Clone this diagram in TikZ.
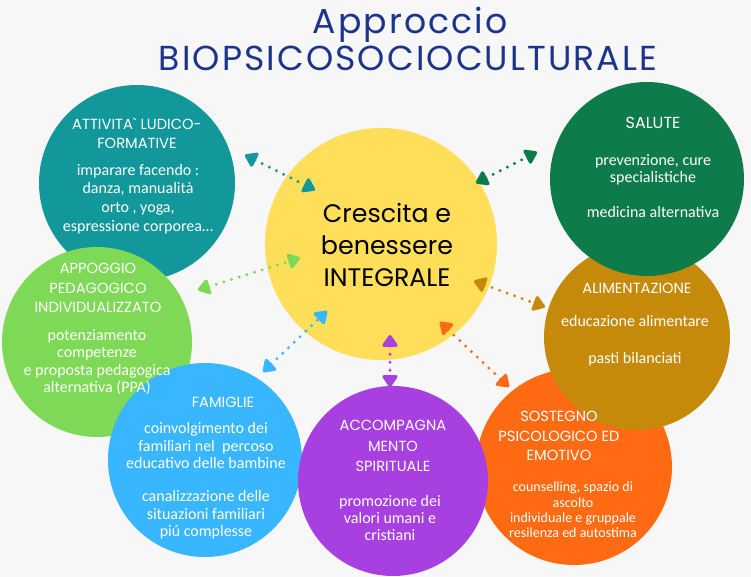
\documentclass[tikz,border=0pt]{standalone}
\usepackage{fontspec}
\setmainfont{Carlito}
\newfontfamily\titolofont{Poppins}
\newfontfamily\titolospaziato[LetterSpace=6]{Poppins}
\usepackage{xcolor}
\usepackage{tikz}
\usetikzlibrary{arrows.meta}

\definecolor{sfondo}{HTML}{F7F7F7}
\definecolor{blutitolo}{HTML}{1C348C}
\definecolor{cTeal}{HTML}{12979B}
\definecolor{cVerde}{HTML}{7ED957}
\definecolor{cSalute}{HTML}{0E7B4A}
\definecolor{cOcra}{HTML}{C68A0A}
\definecolor{cArancio}{HTML}{FF6A13}
\definecolor{cViola}{HTML}{A83FE0}
\definecolor{cAzzurro}{HTML}{38B6FF}
\definecolor{cGiallo}{HTML}{FFDE59}

\tikzset{
  bolla/.style={circle, inner sep=0pt, draw=none},
  intestazione/.style={font=\titolofont\fontsize{11}{14.5}\selectfont, text=white, align=center},
  testo/.style={font=\fontsize{12}{13}\selectfont, text=white, align=center},
  freccia/.style={{Triangle[round,length=10pt,width=13pt]}-{Triangle[round,length=10pt,width=13pt]},
    line width=2.4pt, line cap=round, dash pattern=on 0pt off 6pt}
}

\begin{document}
\begin{tikzpicture}[x=0.75pt, y=-0.75pt]
% Sfondo
\fill[sfondo] (0,0) rectangle (751,577);
\useasboundingbox (0,0) rectangle (751,577);

% Titolo
\node[font=\titolospaziato\fontsize{26}{30}\selectfont, text=blutitolo] (tit1) at (410,25) {Approccio};
\node[font=\titolospaziato\fontsize{26}{30}\selectfont, text=blutitolo] (tit2) at (408,58) {BIOPSICOSOCIOCULTURALE};

% Cerchi - nell'ordine di sovrapposizione
\node[bolla, fill=cTeal, minimum size=147pt] (ludico) at (137,183) {};
\node[bolla, fill=cVerde, minimum size=142.5pt] (appoggio) at (97,342) {};
\node[bolla, fill=cAzzurro, minimum size=145.5pt] (famiglie) at (205,460) {};
\node[bolla, fill=cArancio, minimum size=147pt] (sostegno) at (574,467) {};
\node[bolla, fill=cViola, minimum size=142.5pt] (spirito) at (393,481) {};
\node[bolla, fill=cOcra, minimum size=139.5pt] (alimenti) at (637,337) {};
\node[bolla, fill=cSalute, minimum size=145.5pt] (salute) at (647,179) {};
\node[bolla, fill=cGiallo, minimum size=174pt] (centro) at (381,244) {};

% Testo centrale
\node[font=\titolofont\fontsize{19}{24}\selectfont, align=center] (crescita) at (387,245)
  {Crescita e\\benessere\\INTEGRALE};

% Attivita ludico-formative
\node[intestazione] (ludicoT) at (137,133) {ATTIVITA` LUDICO-\\FORMATIVE};
\node[testo, font=\fontsize{12}{14}\selectfont] (ludicoB) at (138,199)
  {imparare facendo :\\danza, manualità\\orto , yoga,\\espressione corporea…};

% Appoggio pedagogico
\node[intestazione] (appoggioT) at (98,288) {APPOGGIO\\PEDAGOGICO\\INDIVIDUALIZZATO};
\node[testo] (appoggioB) at (97,362)
  {potenziamento\\competenze\\e proposta pedagogica\\alternativa (PPA)};

% Salute
\node[intestazione, font=\titolofont\fontsize{12}{14.5}\selectfont] (saluteT) at (653,123) {SALUTE};
\node[testo] (saluteB) at (653,186)
  {prevenzione, cure\\specialistiche\\[13pt]medicina alternativa};

% Alimentazione
\node[intestazione] (alimentiT) at (637,288) {ALIMENTAZIONE};
\node[testo] (alimentiB) at (635,341)
  {educazione alimentare\\[15pt]pasti bilanciati};

% Famiglie
\node[intestazione] (famiglieT) at (223,402) {FAMIGLIE};
\node[testo] (famiglieB) at (206,481)
  {coinvolgimento dei\\familiari nel~ percoso\\educativo delle bambine\\[12pt]canalizzazione delle\\situazioni familiari\\piú complesse};

% Accompagnamento spirituale
\node[intestazione, font=\titolofont\fontsize{11}{15.5}\selectfont] (spiritoT) at (393,446) {ACCOMPAGNA\\MENTO\\SPIRITUALE};
\node[testo] (spiritoB) at (390,518)
  {promozione dei\\valori umani e\\cristiani};

% Sostegno psicologico
\node[intestazione] (sostegnoT) at (559,436) {SOSTEGNO\\PSICOLOGICO ED\\EMOTIVO};
\node[testo, font=\fontsize{10.5}{11.5}\selectfont] (sostegnoB) at (573,510)
  {counselling, spazio di\\ascolto\\individuale e gruppale\\resilenza ed autostima};

% Frecce tratteggiate
\coordinate (fL1) at (245,155); \coordinate (fL2) at (315,190);
\coordinate (fS1) at (476,183); \coordinate (fS2) at (537,152);
\coordinate (fV1) at (198,290); \coordinate (fV2) at (300,258);
\coordinate (fF1) at (263,372); \coordinate (fF2) at (327,311);
\coordinate (fP1) at (390,335); \coordinate (fP2) at (390,387);
\coordinate (fA1) at (474,281); \coordinate (fA2) at (545,307);
\coordinate (fO1) at (440,322); \coordinate (fO2) at (509,387);
\draw[freccia, cTeal] (fL1) -- (fL2);
\draw[freccia, cSalute] (fS1) -- (fS2);
\draw[freccia, cVerde] (fV1) -- (fV2);
\draw[freccia, cAzzurro] (fF1) -- (fF2);
\draw[freccia, cViola] (fP1) -- (fP2);
\draw[freccia, cOcra] (fA1) -- (fA2);
\draw[freccia, cArancio] (fO1) -- (fO2);

\end{tikzpicture}
\end{document}
